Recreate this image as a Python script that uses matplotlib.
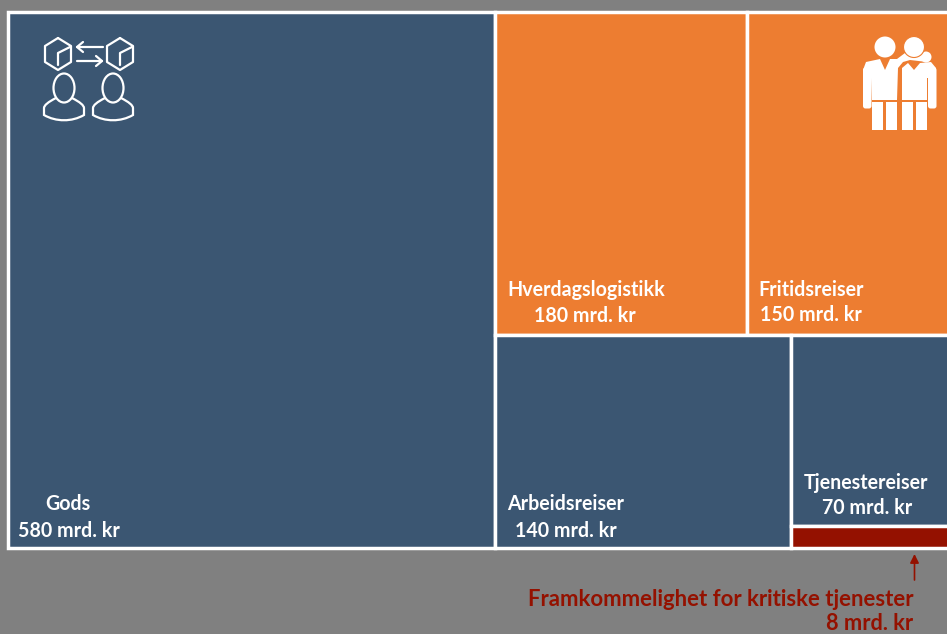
import matplotlib
matplotlib.use('Agg')
import matplotlib.pyplot as plt
import numpy as np
from matplotlib.patches import Circle, Ellipse, Polygon, Rectangle, FancyBboxPatch
from matplotlib.path import Path
from matplotlib.patches import PathPatch

plt.rcParams['font.family'] = ['Lato', 'DejaVu Sans']

gods = 580
hverdag = 180
fritid = 150
arbeid = 140
tjeneste = 70
kritisk = 8

BLUE = '#3b5672'
ORANGE = '#ed7d31'
RED = '#941100'
GREY = '#808080'

fig = plt.figure(figsize=(9.47, 6.34), dpi=100, facecolor=GREY)
ax = fig.add_axes([0, 0, 1, 1])
ax.set_xlim(0, 947)
ax.set_ylim(634, 0)
ax.axis('off')

# treemap runs past the right edge of the picture, same as the original crop
x0, y0 = 8, 12
w, h = 948, 536


def box(x, y, bw, bh, color):
    ax.add_patch(Rectangle((x, y), bw, bh, facecolor=color, edgecolor='white', linewidth=2.5))


total = gods + hverdag + fritid + arbeid + tjeneste + kritisk
left_w = w * gods / total
right_w = w - left_w
right_x = x0 + left_w
top_sum = hverdag + fritid
bottom_sum = arbeid + tjeneste + kritisk
top_h = h * top_sum / (top_sum + bottom_sum)
bottom_h = h - top_h
bottom_y = y0 + top_h
hv_w = right_w * hverdag / top_sum
ar_w = right_w * arbeid / bottom_sum
rest_w = right_w - ar_w
tj_h = bottom_h * tjeneste / (tjeneste + kritisk)

box(x0, y0, left_w, h, BLUE)
box(right_x, y0, hv_w, top_h, ORANGE)
box(right_x + hv_w, y0, right_w - hv_w, top_h, ORANGE)
box(right_x, bottom_y, ar_w, bottom_h, BLUE)
box(right_x + ar_w, bottom_y, rest_w, tj_h, BLUE)
box(right_x + ar_w, bottom_y + tj_h, rest_w, bottom_h - tj_h, RED)

fs = 14.1
lab = dict(color='white', fontsize=fs, fontweight='bold', va='center')
ax.text(68, 504, 'Gods', ha='center', **lab)
ax.text(69, 531, f'{gods} mrd. kr', ha='center', **lab)
ax.text(507, 290, 'Hverdagslogistikk', ha='left', **lab)
ax.text(585, 316, f'{hverdag} mrd. kr', ha='center', **lab)
ax.text(758, 290, 'Fritidsreiser', ha='left', **lab)
ax.text(811, 315, f'{fritid} mrd. kr', ha='center', **lab)
ax.text(507, 504, 'Arbeidsreiser', ha='left', **lab)
ax.text(566, 531, f'{arbeid} mrd. kr', ha='center', **lab)
ax.text(866, 483, 'Tjenestereiser', ha='center', **lab)
ax.text(867, 508, f'{tjeneste} mrd. kr', ha='center', **lab)

ax.text(913, 600, 'Framkommelighet for kritiske tjenester', ha='right', va='center',
        color=RED, fontsize=15.9, fontweight='bold')
ax.text(913, 624, f'{kritisk} mrd. kr', ha='right', va='center',
        color=RED, fontsize=15.7, fontweight='bold')
ax.annotate('', xy=(914.5, 554), xytext=(914.5, 580),
            arrowprops=dict(arrowstyle='-|>', color=RED, lw=1.2, mutation_scale=13, shrinkA=0, shrinkB=0))


# outline icon, goods and people
def line(xs, ys):
    ax.plot(xs, ys, color='white', lw=1.6, solid_capstyle='round', solid_joinstyle='round')


for cx in [58, 120]:
    line([cx, cx + 13, cx + 13, cx, cx - 13, cx - 13, cx],
         [38, 46, 62, 70, 62, 46, 38])
    line([cx, cx, cx + 12], [65, 53, 47])
line([103, 77], [47, 47])
line([83, 77, 83], [42, 47, 52])
line([77, 102], [61, 61])
line([96, 102, 96], [56, 61, 66])
for cx in [64, 113]:
    ax.add_patch(Ellipse((cx, 88), 21, 29, fill=False, edgecolor='white', lw=1.6))
    verts = [(cx - 8, 98), (cx - 20, 104), (cx - 20, 108), (cx - 20, 115),
             (cx - 8, 122), (cx + 8, 122), (cx + 20, 115),
             (cx + 20, 108), (cx + 20, 104), (cx + 8, 98)]
    codes = [Path.MOVETO, Path.CURVE3, Path.CURVE3, Path.LINETO,
             Path.CURVE4, Path.CURVE4, Path.CURVE4,
             Path.LINETO, Path.CURVE3, Path.CURVE3]
    ax.add_patch(PathPatch(Path(verts, codes), fill=False, edgecolor='white', lw=1.6))


# filled icon, two people, left one with an arm over the other's shoulder
def solid(pts, color='white'):
    ax.add_patch(Polygon(pts, closed=True, facecolor=color, edgecolor='none'))


solid([(863, 70), (866, 62), (880, 59), (885, 70), (890, 59), (897, 59), (905, 53), (922, 53),
       (927, 62), (910, 60), (903, 62), (898, 68), (897, 100), (872, 100), (871, 78), (863, 78)])
solid([(902, 68), (908, 63), (914, 70), (920, 63), (931, 62), (936, 68), (936, 78), (927, 78),
       (927, 100), (902, 100)])
ax.add_patch(Circle((926, 57), 5.5, facecolor='white', edgecolor='none'))
ax.add_patch(Circle((885, 47), 10.5, color='white', lw=0))
ax.add_patch(Circle((914, 47), 10.5, facecolor='white', edgecolor=ORANGE, lw=0.8))
# forearms
for arm_x in [864.5, 929.5]:
    ax.add_patch(FancyBboxPatch((arm_x + 1, 70), 3.5, 36, boxstyle='round,pad=2.5',
                                facecolor='white', edgecolor='none'))
# legs
for lx in [872, 886, 902, 916]:
    ax.add_patch(Rectangle((lx, 102), 11, 27.5, facecolor='white', edgecolor='none'))

fig.savefig('out.png', dpi=100, facecolor=GREY)
